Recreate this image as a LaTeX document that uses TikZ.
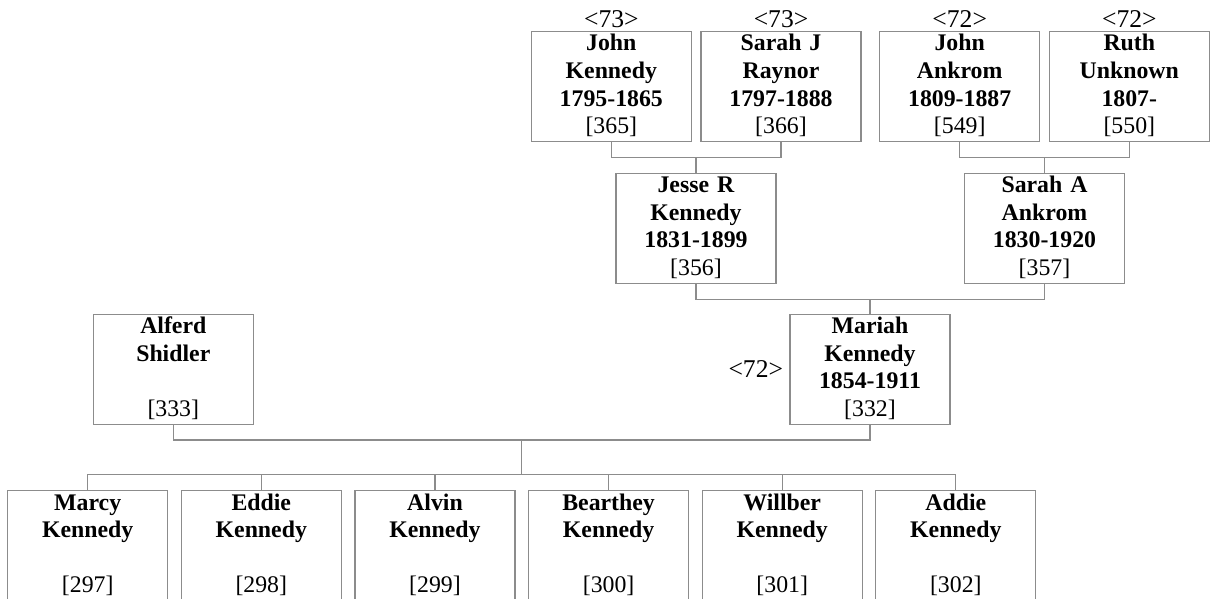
\documentclass[tikz,border=0pt]{standalone}
\usepackage{fontspec}
\setmainfont{Liberation Serif}
\usetikzlibrary{positioning}
\definecolor{gy}{RGB}{140,140,140}

% person text: name / surname / dates / record id
\newcommand{\idn}[1]{\mdseries[#1]}
\newcommand{\who}[4]{\strut\textbf{#1}\\\strut\textbf{#2}\\\strut\textbf{#3}\\\strut\idn{#4}}

\tikzset{
    pbox/.style={draw=gy, line width=0.6pt, text width=80pt, align=center,
        minimum width=80pt, minimum height=55pt, inner xsep=0pt, inner ysep=0pt,
        font=\fontsize{11.9}{13.8}\selectfont},
    gen/.style={inner sep=0pt, font=\fontsize{12.8}{14}\selectfont},
    link/.style={draw=gy, line width=0.6pt}
}

\begin{document}
\begin{tikzpicture}[x=0.5pt, y=-0.5pt]

\clip (0,0) rectangle (1212,599);

% ════════════════════════════════════════════════
%  GRANDPARENTS
% ════════════════════════════════════════════════
\node[pbox] (jk) at (611.3,86.7)  {\who{John}{Kennedy}{1795-1865}{365}};
\node[pbox] (sr) at (781,86.7)    {\who{Sarah J}{Raynor}{1797-1888}{366}};
\node[pbox] (ja) at (959.7,86.7)  {\who{John}{Ankrom}{1809-1887}{549}};
\node[pbox] (ru) at (1129.3,86.7) {\who{Ruth}{Unknown}{1807-}{550}};

% generation marks
\node[gen, above=1.5pt of jk] (gjk) {<73>};
\node[gen, above=1.5pt of sr] (gsr) {<73>};
\node[gen, above=1.5pt of ja] (gja) {<72>};
\node[gen, above=1.5pt of ru] (gru) {<72>};

% ════════════════════════════════════════════════
%  PARENTS
% ════════════════════════════════════════════════
\node[pbox] (jr) at (696,228.5)    {\who{Jesse R}{Kennedy}{1831-1899}{356}};
\node[pbox] (sa) at (1044.5,228.5) {\who{Sarah A}{Ankrom}{1830-1920}{357}};

% couple lines
\draw[link] (jk.south) -- ++(0,15) coordinate (k1) -| (sr.south);
\draw[link] (jr.north) -- (jr.north |- k1);
\draw[link] (ja.south) -- ++(0,15) coordinate (a1) -| (ru.south);
\draw[link] (sa.north) -- (sa.north |- a1);

% ════════════════════════════════════════════════
%  COUPLE
% ════════════════════════════════════════════════
\node[pbox] (as) at (173.3,369.5) {\who{Alferd}{Shidler}{}{333}};
\node[pbox] (mk) at (870,369.5)   {\who{Mariah}{Kennedy}{1854-1911}{332}};
\node[gen, left=3pt of mk] (gmk) {<72>};

\draw[link] (jr.south) -- ++(0,15.6) coordinate (p1) -| (sa.south);
\draw[link] (mk.north) -- (mk.north |- p1);

% ════════════════════════════════════════════════
%  CHILDREN
% ════════════════════════════════════════════════
\node[pbox] (c1) at (87.7,546)  {\who{Marcy}{Kennedy}{}{297}};
\node[pbox] (c2) at (261.3,546) {\who{Eddie}{Kennedy}{}{298}};
\node[pbox] (c3) at (435,546)   {\who{Alvin}{Kennedy}{}{299}};
\node[pbox] (c4) at (608.6,546) {\who{Bearthey}{Kennedy}{}{300}};
\node[pbox] (c5) at (782.2,546) {\who{Willber}{Kennedy}{}{301}};
\node[pbox] (c6) at (955.8,546) {\who{Addie}{Kennedy}{}{302}};

\coordinate (fam) at (521.5,440);
\coordinate (sib) at (521.5,474.3);
\draw[link] (as.south) |- (fam) -| (mk.south);
\draw[link] (fam) -- (sib);
\draw[link] (c1.north |- sib) -- (c6.north |- sib);
\foreach \c in {c1,c2,c3,c4,c5,c6}{
    \draw[link] (\c.north) -- (\c.north |- sib);
}

\end{tikzpicture}
\end{document}
